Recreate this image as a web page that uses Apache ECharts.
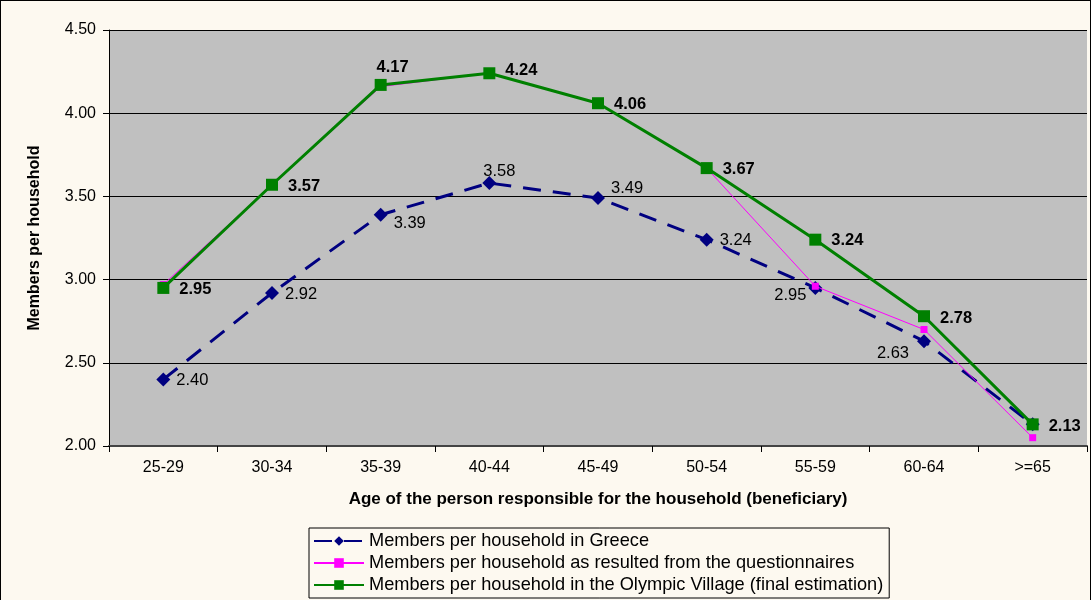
<!DOCTYPE html>
<html><head><meta charset="utf-8">
<script src="https://cdn.jsdelivr.net/npm/echarts@6/dist/echarts.min.js"></script>
<style>
html,body{margin:0;padding:0;background:#fdf9f0;}
#c{width:1089px;height:599px;border:1px solid #000;border-bottom:none;}
</style></head><body>
<div id="c"></div>
<script>
const categories = ['25-29','30-34','35-39','40-44','45-49','50-54','55-59','60-64','>=65'];
const greece = [2.40,2.92,3.39,3.58,3.49,3.24,2.95,2.63,2.13];
const questionnaire = [2.97,3.57,4.16,4.24,4.06,3.67,2.96,2.70,2.05];
const olympic = [2.95,3.57,4.17,4.24,4.06,3.67,3.24,2.78,2.13];
const names = ['Members per household in Greece','Members per household as resulted from the questionnaires','Members per household in the Olympic Village (final estimation)'];

// label placement (style only)
const greeceLabelPos = [
  ['right',[0,1]],['right',[0,2]],['right',[0,9]],['top',[10,10]],['right',[0,-10]],
  ['right',[0,1]],['left',[4,8]],['left',[-2,12]],null];
const olympicLabelPos = [
  ['right',[0,2]],['right',[0,2]],['top',[12,7]],['right',[0,-3]],['right',[0,1]],
  ['right',[0,1]],['right',[0,1]],['right',[0,2]],['right',[0,2]]];
const font = 'Liberation Sans, Arial, sans-serif';

const chart = echarts.init(document.getElementById('c'));
chart.setOption({
  backgroundColor:'#fdf9f0',
  animation:false,
  textStyle:{fontFamily:font},
  grid:{left:108,right:3,top:29,bottom:154,backgroundColor:'#c0c0c0',show:true,borderWidth:0},
  xAxis:{type:'category',data:categories,boundaryGap:true,
    axisLine:{lineStyle:{color:'#444',width:2}},
    axisTick:{show:true,length:6,lineStyle:{color:'#000'}},
    axisLabel:{color:'#000',fontSize:16,margin:14,fontFamily:font},
    name:'Age of the person responsible for the household (beneficiary)',
    nameLocation:'middle',nameGap:45,
    nameTextStyle:{fontWeight:'bold',fontSize:17,color:'#000',fontFamily:font}},
  yAxis:{type:'value',min:2,max:4.5,interval:0.5,
    axisLine:{show:true,lineStyle:{color:'#000'}},
    axisTick:{show:true,length:6,lineStyle:{color:'#000'}},
    splitLine:{lineStyle:{color:'#000',width:1}},
    axisLabel:{color:'#000',fontSize:16,margin:13,formatter:v=>v.toFixed(2),fontFamily:font},
    name:'Members per household',nameLocation:'middle',nameGap:66,
    nameTextStyle:{fontWeight:'bold',fontSize:16,color:'#000',fontFamily:font}},
  legend:{orient:'vertical',left:308,top:527,height:72,itemGap:4,
    backgroundColor:'#fdf9f0',borderColor:'#000',borderWidth:1,padding:[4,6,4,4],
    itemWidth:50,itemHeight:12,
    textStyle:{fontSize:18.2,lineHeight:18,color:'#000',fontFamily:font},
    data:names},
  series:[
    {name:names[0],type:'line',data:greece.map((v,i)=>({value:v,
        label:greeceLabelPos[i]?{show:true,position:greeceLabelPos[i][0],offset:greeceLabelPos[i][1]}:{show:false}})),
     symbol:'diamond',symbolSize:14,z:3,
     lineStyle:{color:'#000080',width:3,type:[18,12]},itemStyle:{color:'#000080'},
     label:{distance:6,color:'#000',fontSize:16.5,formatter:p=>p.value.toFixed(2),fontFamily:font}},
    {name:names[1],type:'line',data:questionnaire,symbol:'rect',symbolSize:7,z:4,
     lineStyle:{color:'#ff00ff',width:1},itemStyle:{color:'#ff00ff'}},
    {name:names[2],type:'line',data:olympic.map((v,i)=>({value:v,
        label:{position:olympicLabelPos[i][0],offset:olympicLabelPos[i][1]}})),
     symbol:'rect',symbolSize:12,z:5,
     lineStyle:{color:'#008000',width:3},itemStyle:{color:'#008000'},
     label:{show:true,distance:10,color:'#000',fontWeight:'bold',fontSize:16.5,
       formatter:p=>p.value.toFixed(2),fontFamily:font}}
  ]
});
</script></body></html>
